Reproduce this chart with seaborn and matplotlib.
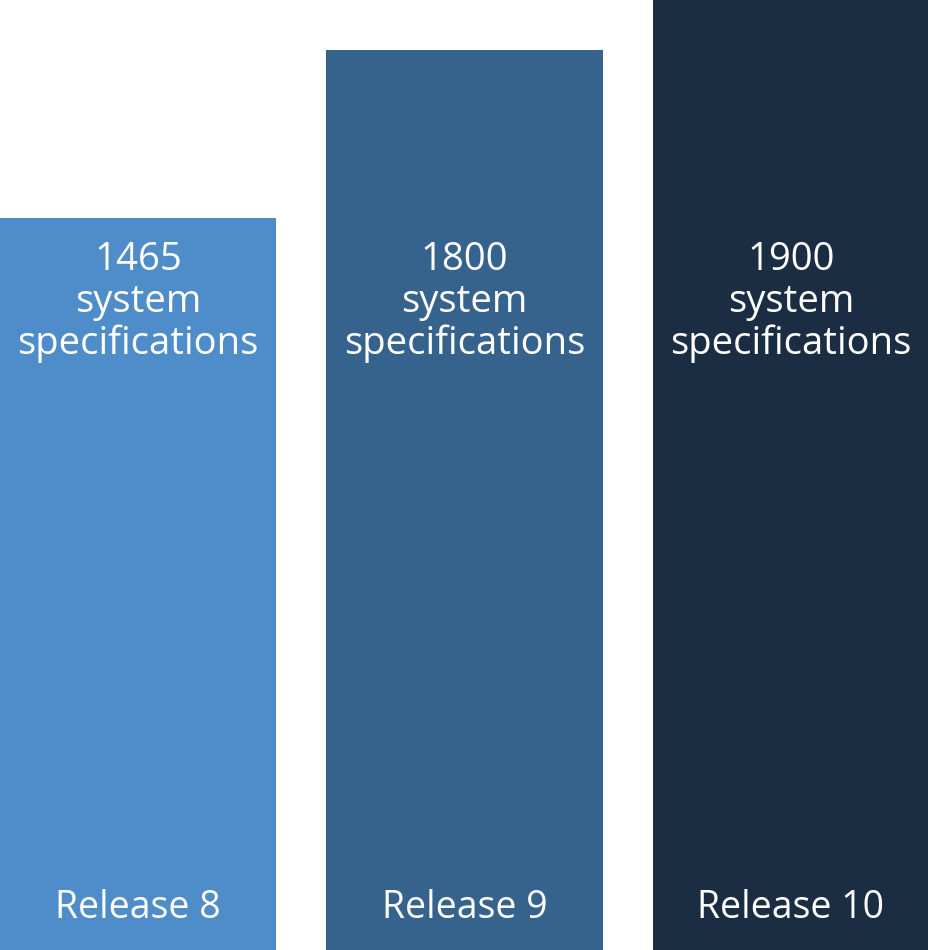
import matplotlib
matplotlib.use("Agg")
import matplotlib.pyplot as plt
import seaborn as sns
import pandas as pd

releases = ["Release 8", "Release 9", "Release 10"]
spec_counts = [1465, 1800, 1900]
bar_colors = ["#4E8CCA", "#36638D", "#1B2D42"]

df = pd.DataFrame({"release": releases, "specs": spec_counts})

sns.set_style("white")
plt.rcParams["font.family"] = ["Open Sans", "DejaVu Sans"]

fig = plt.figure(figsize=(9.29, 9.5), dpi=100)
ax = fig.add_axes([0, 0, 1, 1])

sns.barplot(data=df, x="release", y="specs", hue="release",
            palette=bar_colors, width=0.847, saturation=1,
            linewidth=0, legend=False, ax=ax)

ax.set_ylim(0, 1900)
ax.set_xlim(-0.847 / 2, 2 + 0.847 / 2)
ax.axis("off")

# labels sit at the same height in every bar
for i, (name, n) in enumerate(zip(releases, spec_counts)):
    ax.text(i, 1296, f"{n}\nsystem\nspecifications", ha="center", va="center",
            color="white", fontsize=27.5, linespacing=1.12)
    ax.text(i, 84, name, ha="center", va="center", color="white", fontsize=27)

fig.savefig("out.png", dpi=100)
